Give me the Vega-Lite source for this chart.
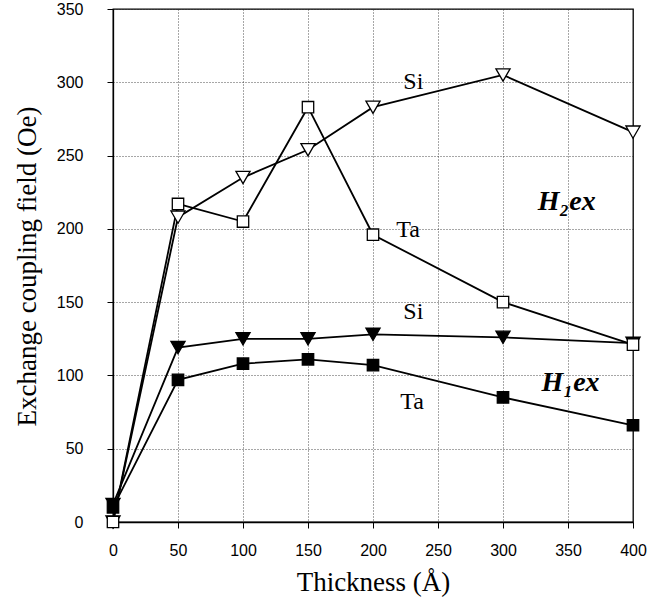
{
  "$schema": "https://vega.github.io/schema/vega-lite/v6.json",
  "width": 520,
  "height": 513,
  "autosize": {"type": "none"},
  "padding": {"left": 113, "top": 9, "right": 29, "bottom": 81},
  "background": "white",
  "config": {
    "view": {"stroke": "black", "strokeWidth": 1.3},
    "axis": {
      "grid": true,
      "gridColor": "#222222",
      "gridDash": [1, 2],
      "gridWidth": 0.8,
      "domainColor": "black",
      "domainWidth": 1.3,
      "tickColor": "black",
      "tickSize": 6,
      "labelFont": "Liberation Sans",
      "labelFontSize": 16,
      "labelColor": "black",
      "labelFlush": false,
      "labelOverlap": false,
      "titleFont": "Liberation Serif",
      "titleFontSize": 27,
      "titleFontWeight": "normal",
      "titleColor": "black"
    }
  },
  "datasets": {
    "series": [
      {"series": "H2 Ta", "thickness": 0, "field": 0},
      {"series": "H2 Ta", "thickness": 50, "field": 217},
      {"series": "H2 Ta", "thickness": 100, "field": 205},
      {"series": "H2 Ta", "thickness": 150, "field": 283},
      {"series": "H2 Ta", "thickness": 200, "field": 196},
      {"series": "H2 Ta", "thickness": 300, "field": 150},
      {"series": "H2 Ta", "thickness": 400, "field": 121},
      {"series": "H2 Si", "thickness": 0, "field": 0},
      {"series": "H2 Si", "thickness": 50, "field": 208},
      {"series": "H2 Si", "thickness": 100, "field": 235},
      {"series": "H2 Si", "thickness": 150, "field": 254},
      {"series": "H2 Si", "thickness": 200, "field": 283},
      {"series": "H2 Si", "thickness": 300, "field": 305},
      {"series": "H2 Si", "thickness": 400, "field": 266},
      {"series": "H1 Si", "thickness": 0, "field": 12},
      {"series": "H1 Si", "thickness": 50, "field": 119},
      {"series": "H1 Si", "thickness": 100, "field": 125},
      {"series": "H1 Si", "thickness": 150, "field": 125},
      {"series": "H1 Si", "thickness": 200, "field": 128},
      {"series": "H1 Si", "thickness": 300, "field": 126},
      {"series": "H1 Si", "thickness": 400, "field": 122},
      {"series": "H1 Ta", "thickness": 0, "field": 10},
      {"series": "H1 Ta", "thickness": 50, "field": 97},
      {"series": "H1 Ta", "thickness": 100, "field": 108},
      {"series": "H1 Ta", "thickness": 150, "field": 111},
      {"series": "H1 Ta", "thickness": 200, "field": 107},
      {"series": "H1 Ta", "thickness": 300, "field": 85},
      {"series": "H1 Ta", "thickness": 400, "field": 66}
    ],
    "labels": [
      {"label": "Si", "thickness": 231, "field": 300, "kind": "plain"},
      {"label": "Ta", "thickness": 227, "field": 199, "kind": "plain"},
      {"label": "Si", "thickness": 231, "field": 143, "kind": "plain"},
      {"label": "Ta", "thickness": 230, "field": 82, "kind": "plain"},
      {"label": "H₂ex", "thickness": 349, "field": 218, "kind": "bold"},
      {"label": "H₁ex", "thickness": 352, "field": 95, "kind": "bold"}
    ]
  },
  "encoding": {
    "x": {
      "field": "thickness",
      "type": "quantitative",
      "scale": {"domain": [0, 400], "nice": false, "zero": false},
      "axis": {
        "values": [0, 50, 100, 150, 200, 250, 300, 350, 400],
        "title": "Thickness (Å)",
        "labelPadding": 14,
        "titleX": 260,
        "titleY": 68,
        "titleAlign": "center",
        "titleBaseline": "alphabetic"
      }
    },
    "y": {
      "field": "field",
      "type": "quantitative",
      "scale": {"domain": [0, 350], "nice": false},
      "axis": {
        "values": [0, 50, 100, 150, 200, 250, 300, 350],
        "title": "Exchange coupling field (Oe)",
        "labelPadding": 24,
        "titleX": -78,
        "titleY": 257,
        "titleAngle": -90,
        "titleAlign": "center",
        "titleBaseline": "alphabetic"
      }
    }
  },
  "layer": [
    {
      "data": {"name": "series"},
      "mark": {"type": "line", "color": "black", "strokeWidth": 1.8},
      "encoding": {"detail": {"field": "series"}}
    },
    {
      "data": {"name": "series"},
      "transform": [{"filter": {"field": "series", "oneOf": ["H2 Si", "H1 Si"]}}],
      "mark": {"type": "point", "shape": "triangle-down", "size": 200, "filled": true, "stroke": "black", "strokeWidth": 1.3, "opacity": 1},
      "encoding": {
        "fill": {"field": "series", "type": "nominal", "scale": {"domain": ["H2 Si", "H1 Si"], "range": ["white", "black"]}, "legend": null}
      }
    },
    {
      "data": {"name": "series"},
      "transform": [{"filter": {"field": "series", "oneOf": ["H2 Ta", "H1 Ta"]}}],
      "mark": {"type": "point", "shape": "square", "size": 130, "filled": true, "stroke": "black", "strokeWidth": 1.3, "opacity": 1},
      "encoding": {
        "fill": {"field": "series", "type": "nominal", "scale": {"domain": ["H2 Ta", "H1 Ta"], "range": ["white", "black"]}, "legend": null}
      }
    },
    {
      "data": {"name": "labels"},
      "transform": [{"filter": "datum.kind == 'plain'"}],
      "mark": {"type": "text", "font": "Liberation Serif", "fontSize": 24, "color": "black", "align": "center", "baseline": "middle"},
      "encoding": {"text": {"field": "label"}}
    },
    {
      "data": {"name": "labels"},
      "transform": [{"filter": "datum.kind == 'bold'"}],
      "mark": {"type": "text", "font": "Liberation Serif", "fontSize": 28, "fontWeight": "bold", "fontStyle": "italic", "color": "black", "align": "center", "baseline": "middle"},
      "encoding": {"text": {"field": "label"}}
    }
  ]
}
